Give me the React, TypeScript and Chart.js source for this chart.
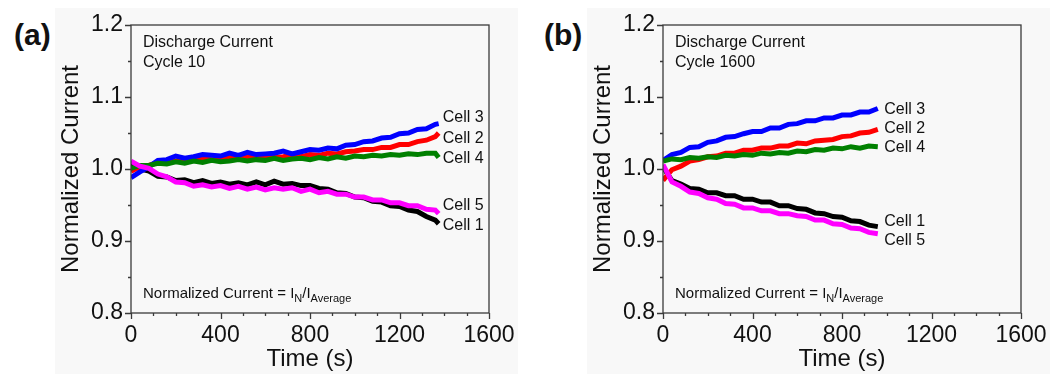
import React, { useEffect, useRef } from 'react';
import { Chart, registerables } from 'chart.js';

Chart.register(...registerables);

const FONT = "'Liberation Sans', Arial, Helvetica, sans-serif";

// ---------- axes ----------
const xTicks = [0, 400, 800, 1200, 1600];
const xMinor = [100, 200, 300, 500, 600, 700, 900, 1000, 1100, 1300, 1400, 1500];
const yTicks = [0.8, 0.9, 1.0, 1.1, 1.2];
const yMinor = [0.85, 0.95, 1.05, 1.15];

// ---------- panel (a): cycle 10 ----------
const timeA = [0, 40, 80, 120, 160, 200, 240, 280, 320, 360, 400, 440, 480, 520, 560, 600, 640, 680, 720, 760, 800, 840, 880, 920, 960, 1000, 1040, 1080, 1120, 1160, 1200, 1240, 1280, 1320, 1360, 1375];
const cell3A = [0.988, 0.996, 1.003, 1.012, 1.013, 1.018, 1.015, 1.017, 1.020, 1.019, 1.018, 1.022, 1.019, 1.023, 1.020, 1.021, 1.022, 1.025, 1.021, 1.024, 1.027, 1.026, 1.029, 1.028, 1.033, 1.034, 1.038, 1.039, 1.043, 1.044, 1.049, 1.050, 1.055, 1.056, 1.062, 1.063];
const cell2A = [0.997, 1.003, 1.005, 1.009, 1.011, 1.011, 1.013, 1.012, 1.015, 1.013, 1.014, 1.016, 1.014, 1.017, 1.015, 1.018, 1.016, 1.017, 1.019, 1.017, 1.020, 1.019, 1.022, 1.021, 1.024, 1.025, 1.027, 1.027, 1.030, 1.030, 1.034, 1.034, 1.038, 1.040, 1.045, 1.050];
const cell4A = [1.001, 1.005, 1.005, 1.008, 1.007, 1.010, 1.008, 1.011, 1.009, 1.012, 1.010, 1.011, 1.013, 1.011, 1.013, 1.012, 1.015, 1.012, 1.014, 1.015, 1.013, 1.016, 1.014, 1.017, 1.015, 1.018, 1.017, 1.019, 1.018, 1.020, 1.019, 1.021, 1.020, 1.022, 1.022, 1.016];
const cell1A = [1.007, 1.000, 0.997, 0.990, 0.989, 0.984, 0.985, 0.981, 0.984, 0.980, 0.982, 0.979, 0.981, 0.978, 0.982, 0.978, 0.983, 0.979, 0.980, 0.977, 0.977, 0.973, 0.972, 0.967, 0.966, 0.961, 0.960, 0.955, 0.954, 0.949, 0.948, 0.943, 0.941, 0.934, 0.929, 0.924];
const cell5A = [1.011, 1.004, 1.001, 0.993, 0.989, 0.982, 0.981, 0.976, 0.978, 0.975, 0.977, 0.973, 0.976, 0.972, 0.975, 0.971, 0.974, 0.972, 0.974, 0.969, 0.972, 0.967, 0.969, 0.965, 0.965, 0.961, 0.961, 0.957, 0.957, 0.953, 0.953, 0.949, 0.949, 0.944, 0.943, 0.938];
const headingA = ['Discharge Current', 'Cycle 10'];
const labelsA = ['Cell 3', 'Cell 2', 'Cell 4', 'Cell 5', 'Cell 1'];
const labelYA = [1.065, 1.036, 1.009, 0.943, 0.915];
const labelTA = 1393;

// ---------- panel (b): cycle 1600 ----------
const timeB = [0, 40, 80, 120, 160, 200, 240, 280, 320, 360, 400, 440, 480, 520, 560, 600, 640, 680, 720, 760, 800, 840, 880, 920, 960];
const cell3B = [1.012, 1.020, 1.023, 1.030, 1.031, 1.037, 1.039, 1.044, 1.045, 1.049, 1.052, 1.052, 1.057, 1.057, 1.062, 1.063, 1.067, 1.067, 1.071, 1.071, 1.075, 1.075, 1.079, 1.079, 1.084];
const cell2B = [0.984, 0.999, 1.004, 1.011, 1.013, 1.017, 1.018, 1.022, 1.022, 1.026, 1.026, 1.029, 1.029, 1.032, 1.032, 1.036, 1.035, 1.039, 1.040, 1.041, 1.045, 1.046, 1.050, 1.051, 1.055];
const cell4B = [1.011, 1.014, 1.013, 1.016, 1.015, 1.017, 1.016, 1.019, 1.018, 1.020, 1.019, 1.022, 1.021, 1.023, 1.022, 1.025, 1.024, 1.027, 1.026, 1.029, 1.028, 1.031, 1.029, 1.032, 1.031];
const cell1B = [1.003, 0.984, 0.979, 0.973, 0.972, 0.967, 0.967, 0.963, 0.963, 0.958, 0.958, 0.954, 0.954, 0.949, 0.949, 0.945, 0.944, 0.939, 0.938, 0.934, 0.933, 0.928, 0.927, 0.922, 0.920];
const cell5B = [1.006, 0.982, 0.976, 0.968, 0.966, 0.960, 0.958, 0.952, 0.951, 0.946, 0.946, 0.942, 0.942, 0.938, 0.938, 0.935, 0.934, 0.929, 0.929, 0.924, 0.923, 0.918, 0.917, 0.912, 0.910];
const headingB = ['Discharge Current', 'Cycle 1600'];
const labelsB = ['Cell 3', 'Cell 2', 'Cell 4', 'Cell 1', 'Cell 5'];
const labelYB = [1.077, 1.050, 1.024, 0.921, 0.894];
const labelTB = 989;

const COLORS = { c1: '#000000', c2: '#ff0000', c3: '#0000ff', c4: '#008000', c5: '#ff00ff' };

const decorPlugin = {
  id: 'decor',
  afterDraw(chart: any, _args: any, opts: any) {
    const { ctx, chartArea: ca, scales } = chart;
    const xs = scales.x;
    const ys = scales.y;
    ctx.save();
    ctx.strokeStyle = '#3a3a3a';
    ctx.lineWidth = 1.3;
    ctx.strokeRect(ca.left, ca.top, ca.right - ca.left, ca.bottom - ca.top);
    ctx.beginPath();
    xTicks.forEach((v) => {
      const p = Math.round(xs.getPixelForValue(v)) + 0.5;
      ctx.moveTo(p, ca.bottom);
      ctx.lineTo(p, ca.bottom + 6);
    });
    xMinor.forEach((v) => {
      const p = Math.round(xs.getPixelForValue(v)) + 0.5;
      ctx.moveTo(p, ca.bottom);
      ctx.lineTo(p, ca.bottom + 3);
    });
    yTicks.forEach((v) => {
      const p = Math.round(ys.getPixelForValue(v)) + 0.5;
      ctx.moveTo(ca.left, p);
      ctx.lineTo(ca.left - 6, p);
    });
    yMinor.forEach((v) => {
      const p = Math.round(ys.getPixelForValue(v)) + 0.5;
      ctx.moveTo(ca.left, p);
      ctx.lineTo(ca.left - 3, p);
    });
    ctx.stroke();

    ctx.fillStyle = '#111';
    ctx.textAlign = 'left';
    ctx.textBaseline = 'alphabetic';
    ctx.font = `16px ${FONT}`;
    ctx.fillText(opts.heading[0], ca.left + 12, ca.top + 22);
    ctx.fillText(opts.heading[1], ca.left + 12, ca.top + 42);

    // formula
    let fx = ca.left + 12;
    const fy = ca.bottom - 15;
    const seg = (t: string, size: number, dy: number) => {
      ctx.font = `${size}px ${FONT}`;
      ctx.fillText(t, fx, fy + dy);
      fx += ctx.measureText(t).width;
    };
    seg('Normalized Current = I', 15, 0);
    seg('N', 11, 4);
    seg('/I', 15, 0);
    seg('Average', 11, 4);

    ctx.font = `16px ${FONT}`;
    const lx = xs.getPixelForValue(opts.labelT);
    opts.labels.forEach((t: string, i: number) => {
      ctx.fillText(t, lx, ys.getPixelForValue(opts.labelY[i]));
    });
    ctx.restore();
  },
};

function makeConfig(time: number[], s1: number[], s2: number[], s3: number[], s4: number[], s5: number[], decor: any) {
  const pts = (arr: number[]) => arr.map((v, i) => ({ x: time[i], y: v }));
  const ds = (label: string, arr: number[], color: string) => ({
    label,
    data: pts(arr),
    borderColor: color,
    backgroundColor: color,
    borderWidth: 5,
    pointRadius: 0,
    tension: 0,
    fill: false,
  });
  return {
    type: 'line' as const,
    data: {
      datasets: [
        ds('Cell 5', s5, COLORS.c5),
        ds('Cell 4', s4, COLORS.c4),
        ds('Cell 3', s3, COLORS.c3),
        ds('Cell 2', s2, COLORS.c2),
        ds('Cell 1', s1, COLORS.c1),
      ],
    },
    options: {
      responsive: false,
      animation: false,
      devicePixelRatio: 1,
      layout: { padding: { left: 0, top: 17, right: 29, bottom: 0 } },
      plugins: {
        legend: { display: false },
        tooltip: { enabled: false },
        decor,
      },
      scales: {
        x: {
          type: 'linear',
          min: 0,
          max: 1600,
          afterBuildTicks: (s: any) => {
            s.ticks = xTicks.map((v) => ({ value: v }));
          },
          afterFit: (s: any) => {
            s.height = 61;
          },
          grid: { display: true, drawOnChartArea: false, drawTicks: true, tickLength: 6, color: 'rgba(0,0,0,0)' },
          border: { display: false },
          ticks: {
            font: { size: 23, family: FONT },
            color: '#111',
            padding: 3,
            maxRotation: 0,
            autoSkip: false,
            callback: (v: any) => String(v),
          },
          title: {
            display: true,
            text: 'Time (s)',
            font: { size: 24, family: FONT },
            color: '#111',
            padding: { top: 0, bottom: 0 },
          },
        },
        y: {
          type: 'linear',
          min: 0.8,
          max: 1.2,
          afterBuildTicks: (s: any) => {
            s.ticks = yTicks.map((v) => ({ value: v }));
          },
          afterFit: (s: any) => {
            s.width = 76;
          },
          grid: { display: true, drawOnChartArea: false, drawTicks: true, tickLength: 6, color: 'rgba(0,0,0,0)' },
          border: { display: false },
          ticks: {
            font: { size: 23, family: FONT },
            color: '#111',
            padding: 2,
            autoSkip: false,
            callback: (v: any) => Number(v).toFixed(1),
          },
          title: {
            display: true,
            text: 'Normalized Current',
            font: { size: 24, family: FONT },
            color: '#111',
            padding: { top: 2, bottom: 0 },
          },
        },
      },
    },
    plugins: [decorPlugin],
  };
}

function Panel(props: { left: number; config: any }) {
  const ref = useRef<HTMLCanvasElement | null>(null);
  useEffect(() => {
    if (!ref.current) return;
    const chart = new Chart(ref.current, props.config);
    return () => chart.destroy();
  }, []);
  return (
    <div style={{ position: 'absolute', left: props.left, top: 8, width: 463, height: 366, background: '#f8f8f8' }}>
      <canvas ref={ref} width={463} height={366} style={{ width: 463, height: 366, display: 'block' }} />
    </div>
  );
}

export default function App() {
  const cfgA = makeConfig(timeA, cell1A, cell2A, cell3A, cell4A, cell5A, {
    heading: headingA,
    labels: labelsA,
    labelY: labelYA,
    labelT: labelTA,
  });
  const cfgB = makeConfig(timeB, cell1B, cell2B, cell3B, cell4B, cell5B, {
    heading: headingB,
    labels: labelsB,
    labelY: labelYB,
    labelT: labelTB,
  });
  const tagStyle: React.CSSProperties = {
    position: 'absolute',
    top: 20,
    fontFamily: FONT,
    fontWeight: 'bold',
    fontSize: 30,
    lineHeight: '30px',
    color: '#111',
    whiteSpace: 'nowrap',
  };
  return (
    <div style={{ position: 'absolute', left: 0, top: 0, width: 1064, height: 376, background: '#fff', overflow: 'hidden' }}>
      <div style={{ ...tagStyle, left: 14 }}>(a)</div>
      <div style={{ ...tagStyle, left: 544 }}>(b)</div>
      <Panel left={55} config={cfgA} />
      <Panel left={587} config={cfgB} />
    </div>
  );
}
